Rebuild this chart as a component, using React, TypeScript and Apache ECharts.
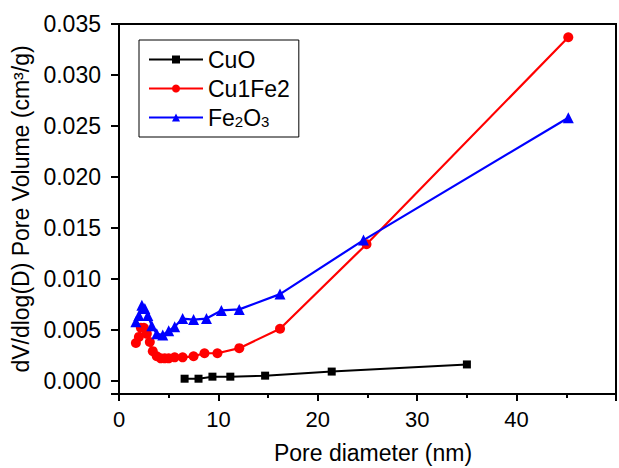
import React, { useEffect, useRef } from "react";
import * as echarts from "echarts";

const cuoData: [number, number][] = [
  [6.6, 0.0002], [8.0, 0.0002], [9.4, 0.0004], [11.2, 0.0004], [14.7, 0.0005], [21.4, 0.0009], [35.0, 0.0016],
];
const cufeData: [number, number][] = [
  [1.7, 0.0037], [2.0, 0.0043], [2.2, 0.0052], [2.5, 0.0052], [2.8, 0.0046], [3.1, 0.0038], [3.4, 0.0029],
  [3.8, 0.0024], [4.2, 0.0022], [4.6, 0.0022], [5.0, 0.0022], [5.6, 0.0023], [6.4, 0.0023], [7.5, 0.0024],
  [8.6, 0.0027], [9.9, 0.0027], [12.1, 0.0032], [16.2, 0.0051], [24.9, 0.0134], [45.2, 0.0337],
];
const fe2o3Data: [number, number][] = [
  [1.7, 0.0058], [2.0, 0.0064], [2.3, 0.0074], [2.6, 0.0071], [2.9, 0.0064], [3.3, 0.0054], [3.8, 0.0046],
  [4.4, 0.0045], [5.0, 0.0049], [5.6, 0.0053], [6.4, 0.0061], [7.5, 0.006], [8.8, 0.0061], [10.3, 0.0069],
  [12.1, 0.007], [16.2, 0.0085], [24.6, 0.0138], [45.2, 0.0258],
];
const seriesNames = ["CuO", "Cu1Fe2", "Fe2O3"];
const xTicks = [0, 10, 20, 30, 40];
const yTicks = [0, 0.005, 0.01, 0.015, 0.02, 0.025, 0.03, 0.035];
const xAxisTitle = "Pore diameter (nm)";
const yAxisTitle = "dV/dlog(D) Pore Volume (cm³/g)";

const FONT = "Arial, 'Liberation Sans', sans-serif";

export default function App() {
  const ref = useRef<HTMLDivElement>(null);
  useEffect(() => {
    if (!ref.current) return;
    const chart = echarts.init(ref.current, null, { renderer: "svg" });
    chart.setOption({
      animation: false,
      backgroundColor: "#ffffff",
      textStyle: { fontFamily: FONT },
      grid: {
        left: 119,
        top: 24,
        width: 529,
        height: 370,
        show: true,
        borderColor: "#000",
        borderWidth: 2,
        backgroundColor: "transparent",
      },
      graphic: [
        {
          type: "text",
          x: 373,
          y: 453,
          style: {
            text: xAxisTitle,
            font: `23px ${FONT}`,
            fill: "#000",
            textAlign: "center",
            textVerticalAlign: "middle",
          },
        },
      ],
      legend: {
        left: 139,
        top: 40,
        orient: "vertical",
        itemWidth: 54,
        itemHeight: 10,
        itemGap: 6,
        borderColor: "#000",
        borderWidth: 1,
        padding: [8, 9, 8, 9],
        data: seriesNames,
        textStyle: {
          fontFamily: FONT,
          fontSize: 23,
          color: "#000",
          rich: {
            sub: { fontSize: 15, verticalAlign: "bottom", padding: [6, 0, 0, 0], fontFamily: FONT, color: "#000" },
          },
        },
        formatter: (name: string) => (name === "Fe2O3" ? "Fe{sub|2}O{sub|3}" : name),
      },
      xAxis: {
        type: "value",
        min: 0,
        max: 50,
        interval: 10,
        axisLine: { show: true, onZero: false, lineStyle: { color: "#000", width: 2 } },
        axisTick: { show: true, inside: false, length: 7, lineStyle: { color: "#000", width: 2 } },
        minorTick: { show: true, splitNumber: 2, length: 4, lineStyle: { color: "#000", width: 2 } },
        splitLine: { show: false },
        axisLabel: {
          margin: 14,
          fontSize: 22,
          color: "#000",
          fontFamily: FONT,
          formatter: (v: number) => (xTicks.includes(v) ? String(v) : ""),
        },
      },
      yAxis: {
        type: "value",
        min: -0.0013,
        max: 0.035,
        splitNumber: 7,
        name: yAxisTitle,
        nameLocation: "middle",
        nameGap: 79,
        nameTextStyle: { fontSize: 23, color: "#000", fontFamily: FONT },
        axisLine: { show: true, onZero: false, lineStyle: { color: "#000", width: 2 } },
        axisTick: { show: true, inside: false, length: 8, lineStyle: { color: "#000", width: 2 } },
        splitLine: { show: false },
        axisLabel: {
          margin: 18,
          fontSize: 23,
          color: "#000",
          fontFamily: FONT,
          formatter: (v: number) => {
            const hit = yTicks.find((t) => Math.abs(t - v) < 1e-7);
            return hit === undefined ? "" : hit.toFixed(3);
          },
        },
      },
      series: [
        {
          name: "CuO",
          type: "line",
          data: cuoData,
          symbol: "rect",
          symbolSize: 8,
          itemStyle: { color: "#000" },
          lineStyle: { color: "#000", width: 2 },
        },
        {
          name: "Cu1Fe2",
          type: "line",
          data: cufeData,
          symbol: "circle",
          symbolSize: 10,
          itemStyle: { color: "#ff0000" },
          lineStyle: { color: "#ff0000", width: 2.2 },
        },
        {
          name: "Fe2O3",
          type: "line",
          data: fe2o3Data,
          symbol: "triangle",
          symbolSize: 11,
          itemStyle: { color: "#0000ff" },
          lineStyle: { color: "#0000ff", width: 2.2 },
        },
      ],
    });
    return () => chart.dispose();
  }, []);
  return (
    <div
      ref={ref}
      style={{ position: "fixed", left: 0, top: 0, width: 619, height: 468, background: "#fff" }}
    />
  );
}
